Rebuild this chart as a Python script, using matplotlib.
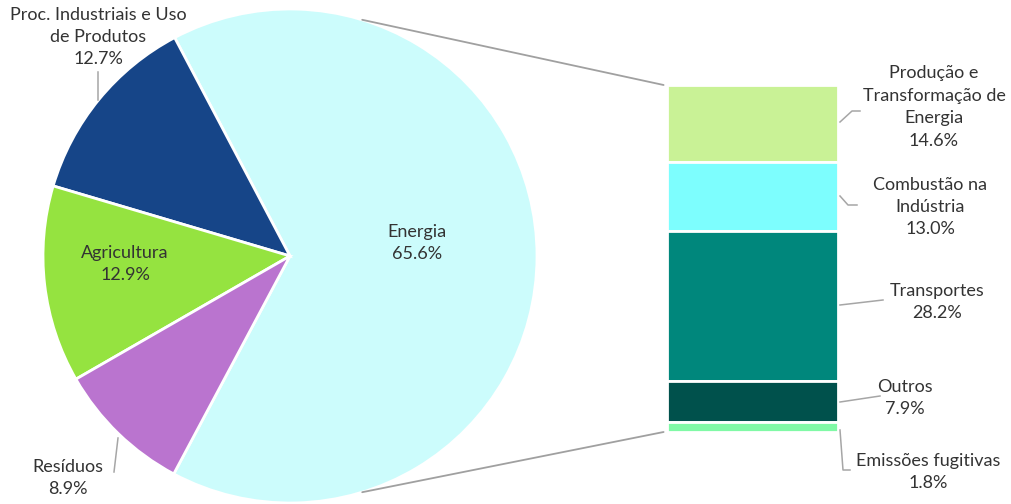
import numpy as np
import matplotlib
matplotlib.use("Agg")
import matplotlib.pyplot as plt
from matplotlib.patches import ConnectionPatch

plt.rcParams['font.family'] = ['Lato', 'DejaVu Sans']

# Data
pie_labels = ["Energia", "Proc. Industriais e Uso\nde Produtos", "Agricultura", "Resíduos"]
pie_values = [65.6, 12.7, 12.9, 8.9]
pie_colors = ["#CCFCFC", "#164588", "#95E340", "#BA74CF"]

bar_labels = ["Produção e\nTransformação de\nEnergia", "Combustão na\nIndústria",
              "Transportes", "Outros", "Emissões fugitivas"]
bar_values = [14.6, 13.0, 28.2, 7.9, 1.8]
bar_colors = ["#C9F296", "#7DFEFE", "#00877C", "#00514C", "#80F9A6"]

W, H = 1012, 504
fig = plt.figure(figsize=(W / 100, H / 100), dpi=100)

def box(x0, y0, x1, y1):
    return [x0 / W, 1 - y1 / H, (x1 - x0) / W, (y1 - y0) / H]

txt_color = "#333333"
lead_color = "#A6A6A6"
fs = 13

# Pie
axp = fig.add_axes(box(43, 9, 537, 503))
start = -pie_values[0] * 3.6 / 2
axp.pie(pie_values, colors=pie_colors, startangle=start, counterclock=True,
        radius=1, wedgeprops=dict(edgecolor="white", linewidth=2))
axp.set_xlim(-1, 1)
axp.set_ylim(-1, 1)
axp.set_aspect("equal")
axp.axis("off")

# Bar
axb = fig.add_axes(box(667, 85, 838, 432))
total = sum(bar_values)
tops = total - np.concatenate([[0], np.cumsum(bar_values)[:-1]])
for v, t, c in zip(bar_values, tops, bar_colors):
    axb.bar(0.5, v, width=1.0, bottom=t - v, color=c, edgecolor="white", linewidth=2)
axb.set_xlim(0, 1)
axb.set_ylim(0, total)
axb.axis("off")

# Connection lines
for ang, yb in [(73, total), (-73, 0)]:
    a = np.deg2rad(ang)
    con = ConnectionPatch(xyA=(np.cos(a), np.sin(a)), coordsA=axp.transData,
                          xyB=(-0.02, yb), coordsB=axb.transData,
                          color="#A0A0A0", linewidth=1.3)
    fig.add_artist(con)

# Overlay for labels
axo = fig.add_axes([0, 0, 1, 1])
axo.set_xlim(0, W)
axo.set_ylim(H, 0)
axo.axis("off")
axo.patch.set_alpha(0)

def label(x, y, s):
    axo.text(x, y, s, ha="center", va="center", fontsize=fs, color=txt_color,
             linespacing=1.5)

def lead(xs, ys):
    axo.plot(xs, ys, color=lead_color, linewidth=1.1)

# Pie labels
label(417, 243, f"{pie_labels[0]}\n{pie_values[0]:.1f}%")
label(98, 37, f"{pie_labels[1]}\n{pie_values[1]:.1f}%")
lead([98, 98], [72, 100])
label(125, 264, f"{pie_labels[2]}\n{pie_values[2]:.1f}%")
label(68, 478, f"{pie_labels[3]}\n{pie_values[3]:.1f}%")
lead([118, 114], [438, 472])

# Bar labels
label(934, 107, f"{bar_labels[0]}\n{bar_values[0]:.1f}%")
lead([840, 852, 860], [122, 111, 111])
label(930, 207, f"{bar_labels[1]}\n{bar_values[1]:.1f}%")
lead([840, 848, 857], [196, 205, 205])
label(937, 302, f"{bar_labels[2]}\n{bar_values[2]:.1f}%")
lead([840, 883], [305, 300])
label(905, 398, f"{bar_labels[3]}\n{bar_values[3]:.1f}%")
lead([840, 880], [402, 396])
label(928, 472, f"{bar_labels[4]}\n{bar_values[4]:.1f}%")
lead([840, 843, 850], [430, 470, 470])

fig.savefig("out.png", dpi=100)
